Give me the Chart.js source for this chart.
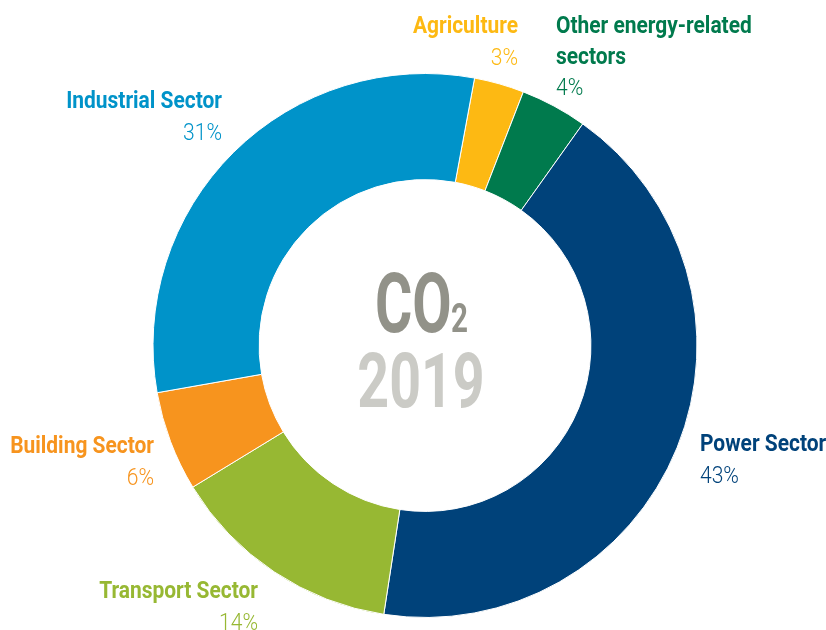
<!DOCTYPE html>
<html>
<head>
<meta charset="utf-8">
<title>CO2 emissions by sector, 2019</title>
<script src="https://cdn.jsdelivr.net/npm/chart.js@4.4.0/dist/chart.umd.min.js"></script>
<style>
  html, body { margin: 0; padding: 0; background: #fff; }
  #wrap { width: 826px; height: 630px; position: relative; }
</style>
</head>
<body>
<div id="wrap"><canvas id="co2-chart"></canvas></div>
<script>
// sector shares of CO2 emissions, clockwise from the top
const sectors = [["Agriculture"], ["Other energy-related", "sectors"], ["Power Sector"], ["Transport Sector"], ["Building Sector"], ["Industrial Sector"]];
const shares = [3, 4, 43, 14, 6, 31];
const colors = ["#fdb913", "#007a4d", "#00427a", "#97b833", "#f7941e", "#0093c9"];

// where each sector's caption sits (x, first baseline, alignment)
const captionLayout = [
  { x: 518, y: 33, align: "right" },
  { x: 556, y: 33, align: "left" },
  { x: 700, y: 451, align: "left" },
  { x: 258, y: 598, align: "right" },
  { x: 154, y: 453, align: "right" },
  { x: 222, y: 108, align: "right" }
];

// condensed look: squeeze Roboto horizontally
function squeezed(ctx, text, x, y, align, sx) {
  ctx.save();
  ctx.translate(x, y);
  ctx.scale(sx, 1);
  ctx.textAlign = align;
  ctx.textBaseline = "alphabetic";
  ctx.fillText(text, 0, 0);
  ctx.restore();
}

const captions = {
  id: "captions",
  afterDraw(chart) {
    const ctx = chart.ctx;
    const lineGap = 30.5;
    captionLayout.forEach((pos, i) => {
      ctx.fillStyle = colors[i];
      ctx.font = "bold 24.5px Roboto";
      let y = pos.y;
      sectors[i].forEach(line => {
        squeezed(ctx, line, pos.x, y, pos.align, 0.855);
        y += lineGap;
      });
      ctx.font = "300 24.5px Roboto";
      squeezed(ctx, shares[i] + "%", pos.x, y + 1, pos.align, 0.86);
    });

    // centre title
    ctx.fillStyle = "#929289";
    ctx.font = "bold 84px Roboto";
    squeezed(ctx, "CO", 375, 332, "left", 0.68);
    ctx.font = "bold 40px Roboto";
    squeezed(ctx, "2", 451, 332, "left", 0.74);
    ctx.fillStyle = "#cbcbc6";
    ctx.font = "bold 76px Roboto";
    squeezed(ctx, "2019", 421, 407, "center", 0.73);
  }
};

new Chart(document.getElementById("co2-chart"), {
  type: "doughnut",
  data: {
    labels: sectors.map(s => s.join(" ")),
    datasets: [{
      data: shares,
      backgroundColor: colors,
      borderColor: "#ffffff",
      borderWidth: 1
    }]
  },
  options: {
    responsive: true,
    maintainAspectRatio: false,
    animation: false,
    cutout: "61%",
    rotation: 10.5,
    layout: { padding: { left: 152, right: 128, top: 73, bottom: 12 } },
    plugins: {
      legend: { display: false },
      tooltip: { enabled: false }
    }
  },
  plugins: [captions]
});
</script>
</body>
</html>
